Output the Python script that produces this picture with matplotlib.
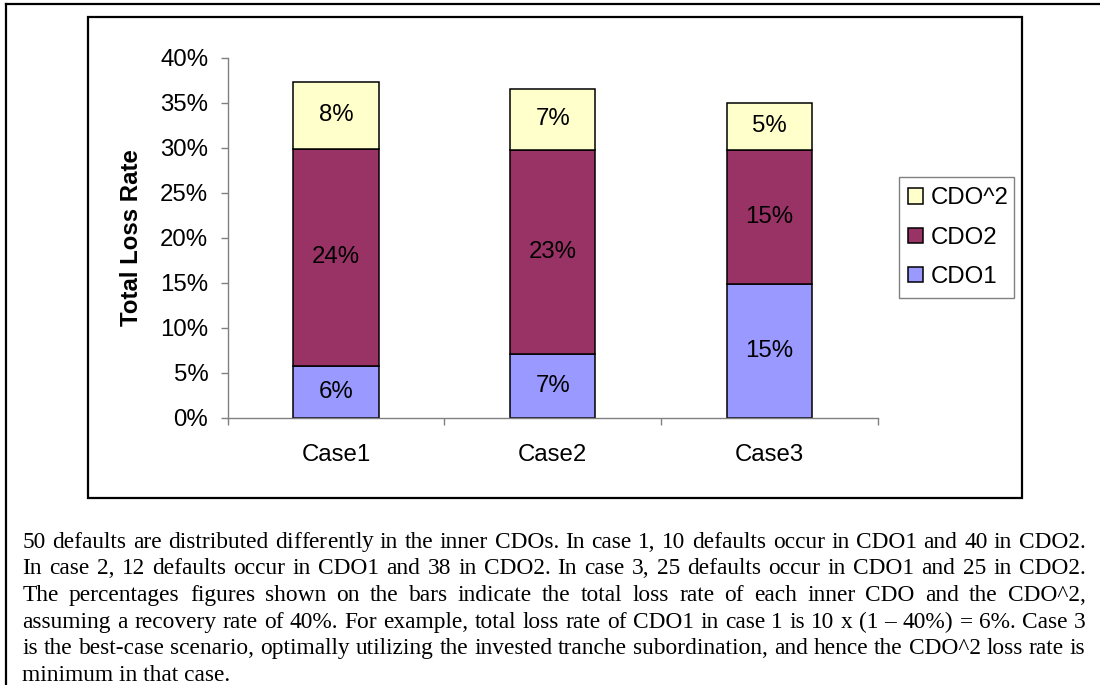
import matplotlib
matplotlib.use("Agg")
import matplotlib.pyplot as plt
from matplotlib.patches import Rectangle
from matplotlib.lines import Line2D
import numpy as np

# ---- data ----
categories = ["Case1", "Case2", "Case3"]
cdo1 = [5.8, 7.1, 14.9]
cdo2 = [24.05, 22.7, 14.9]
cdo_sq = [7.5, 6.7, 5.2]
cdo1_labels = ["6%", "7%", "15%"]
cdo2_labels = ["24%", "23%", "15%"]
cdo_sq_labels = ["8%", "7%", "5%"]
yticks = [0, 5, 10, 15, 20, 25, 30, 35, 40]
ytick_labels = ["0%", "5%", "10%", "15%", "20%", "25%", "30%", "35%", "40%"]
series_names = ["CDO1", "CDO2", "CDO^2"]
colors = ["#9999FF", "#993366", "#FFFFCC"]

caption_lines = [
    "50 defaults are distributed differently in the inner CDOs. In case 1, 10 defaults occur in CDO1 and 40 in CDO2.",
    "In case 2, 12 defaults occur in CDO1 and 38 in CDO2. In case 3, 25 defaults occur in CDO1 and 25 in CDO2.",
    "The percentages figures shown on the bars indicate the total loss rate of each inner CDO and the CDO^2,",
    "assuming a recovery rate of 40%. For example, total loss rate of CDO1 in case 1 is 10 x (1 \u2013 40%) = 6%. Case 3",
    "is the best-case scenario, optimally utilizing the invested tranche subordination, and hence the CDO^2 loss rate is",
    "minimum in that case.",
]

W, H = 1100, 685
fig = plt.figure(figsize=(W / 100, H / 100), dpi=100)
plt.rcParams["font.family"] = ["Liberation Sans", "DejaVu Sans"]

def fx(px):
    return px / W

def fy(py):
    return 1 - py / H

# outer frame lines (left & top)
fig.add_artist(Line2D([fx(5.5), fx(5.5)], [fy(4), fy(H + 5)], color="black", lw=1.6, transform=fig.transFigure))
fig.add_artist(Line2D([fx(5.5), fx(W + 5)], [fy(4), fy(4)], color="black", lw=1.6, transform=fig.transFigure))

# inner chart box
fig.add_artist(Rectangle((fx(88), fy(497.7)), fx(1022 - 88), (497.7 - 17) / H,
                         transform=fig.transFigure, fill=False, edgecolor="black", lw=1.6))

ax_l, ax_r, ax_t, ax_b = 227.7, 877.7, 57.7, 417.7
ax = fig.add_axes([fx(ax_l), fy(ax_b), fx(ax_r - ax_l), (ax_b - ax_t) / H])

x = np.arange(len(categories))
bw = 0.395
fs = 17.3
b1 = ax.bar(x, cdo1, bw, color=colors[0], edgecolor="black", lw=1.1, label=series_names[0])
b2 = ax.bar(x, cdo2, bw, bottom=cdo1, color=colors[1], edgecolor="black", lw=1.1, label=series_names[1])
bottom3 = [a + b for a, b in zip(cdo1, cdo2)]
b3 = ax.bar(x, cdo_sq, bw, bottom=bottom3, color=colors[2], edgecolor="black", lw=1.1, label=series_names[2])
ax.bar_label(b1, labels=cdo1_labels, label_type="center", fontsize=fs)
ax.bar_label(b2, labels=cdo2_labels, label_type="center", fontsize=fs)
ax.bar_label(b3, labels=cdo_sq_labels, label_type="center", fontsize=fs)

ax.set_xlim(-0.5, 2.5)
ax.set_ylim(0, 40)
ax.set_yticks(yticks)
ax.set_yticklabels(ytick_labels, fontsize=fs)
ax.set_xticks([-0.5, 0.5, 1.5, 2.5])
ax.set_xticklabels([])
ax.set_xticks(x, minor=True)
ax.set_xticklabels(categories, minor=True, fontsize=fs)
ax.tick_params(axis="x", which="minor", length=0, pad=19)
ax.tick_params(axis="x", which="major", length=5, width=1, color="#808080", direction="out")
ax.tick_params(axis="y", length=5, width=1, color="#808080", direction="out", pad=9)
for s in ["top", "right"]:
    ax.spines[s].set_visible(False)
for s in ["left", "bottom"]:
    ax.spines[s].set_color("#808080")
    ax.spines[s].set_linewidth(1.0)
ax.set_ylabel("Total Loss Rate", fontsize=fs, fontweight="bold", labelpad=12)

# legend frame drawn separately for exact placement
fig.add_artist(Rectangle((fx(899.3), fy(298.3)), fx(1014.3 - 899.3), (298.3 - 176.7) / H,
                         transform=fig.transFigure, fill=False, edgecolor="#808080", lw=1.0))
handles = [b3, b2, b1]
leg = fig.legend(handles, [series_names[2], series_names[1], series_names[0]],
                 loc="upper left", bbox_to_anchor=(fx(908.3), fy(187.5)),
                 fontsize=fs, frameon=False, handlelength=0.62, handleheight=0.62,
                 handletextpad=0.3, borderpad=0, labelspacing=0.72, borderaxespad=0)

# justified caption (each word placed individually)
cap_fs = 16.8
serif = "Liberation Serif"
left, right = 22.5, 1085.5
renderer = fig.canvas.get_renderer()
char_split_words = {"differently"}

def make_word(word, yfig):
    pieces = list(word) if word in char_split_words else [word]
    ts = [fig.text(0, yfig, p, fontsize=cap_fs, family=serif, va="baseline", ha="left") for p in pieces]
    if len(pieces) > 1:
        # advance widths from cumulative prefix measurements
        cum = [0.0]
        for k in range(1, len(word) + 1):
            tmp = fig.text(0, 0, word[:k], fontsize=cap_fs, family=serif)
            cum.append(tmp.get_window_extent(renderer).width)
            tmp.remove()
        ws = [cum[k + 1] - cum[k] for k in range(len(word))]
    else:
        ws = [ts[0].get_window_extent(renderer).width]
    return ts, ws

for i, line in enumerate(caption_lines):
    yb = 547.5 + i * 26.7
    if i == len(caption_lines) - 1:
        fig.text(fx(left), fy(yb), line, fontsize=cap_fs, family=serif, va="baseline", ha="left")
        continue
    words = line.split(" ")
    items = [make_word(w, fy(yb)) for w in words]
    widths = [sum(ws) for _, ws in items]
    gap = (right - left - sum(widths)) / (len(words) - 1)
    pos = left
    for (ts, ws), w in zip(items, widths):
        p = pos
        for t, pw in zip(ts, ws):
            t.set_x(fx(p))
            p += pw
        pos += w + gap

fig.savefig("out.png", dpi=100)
